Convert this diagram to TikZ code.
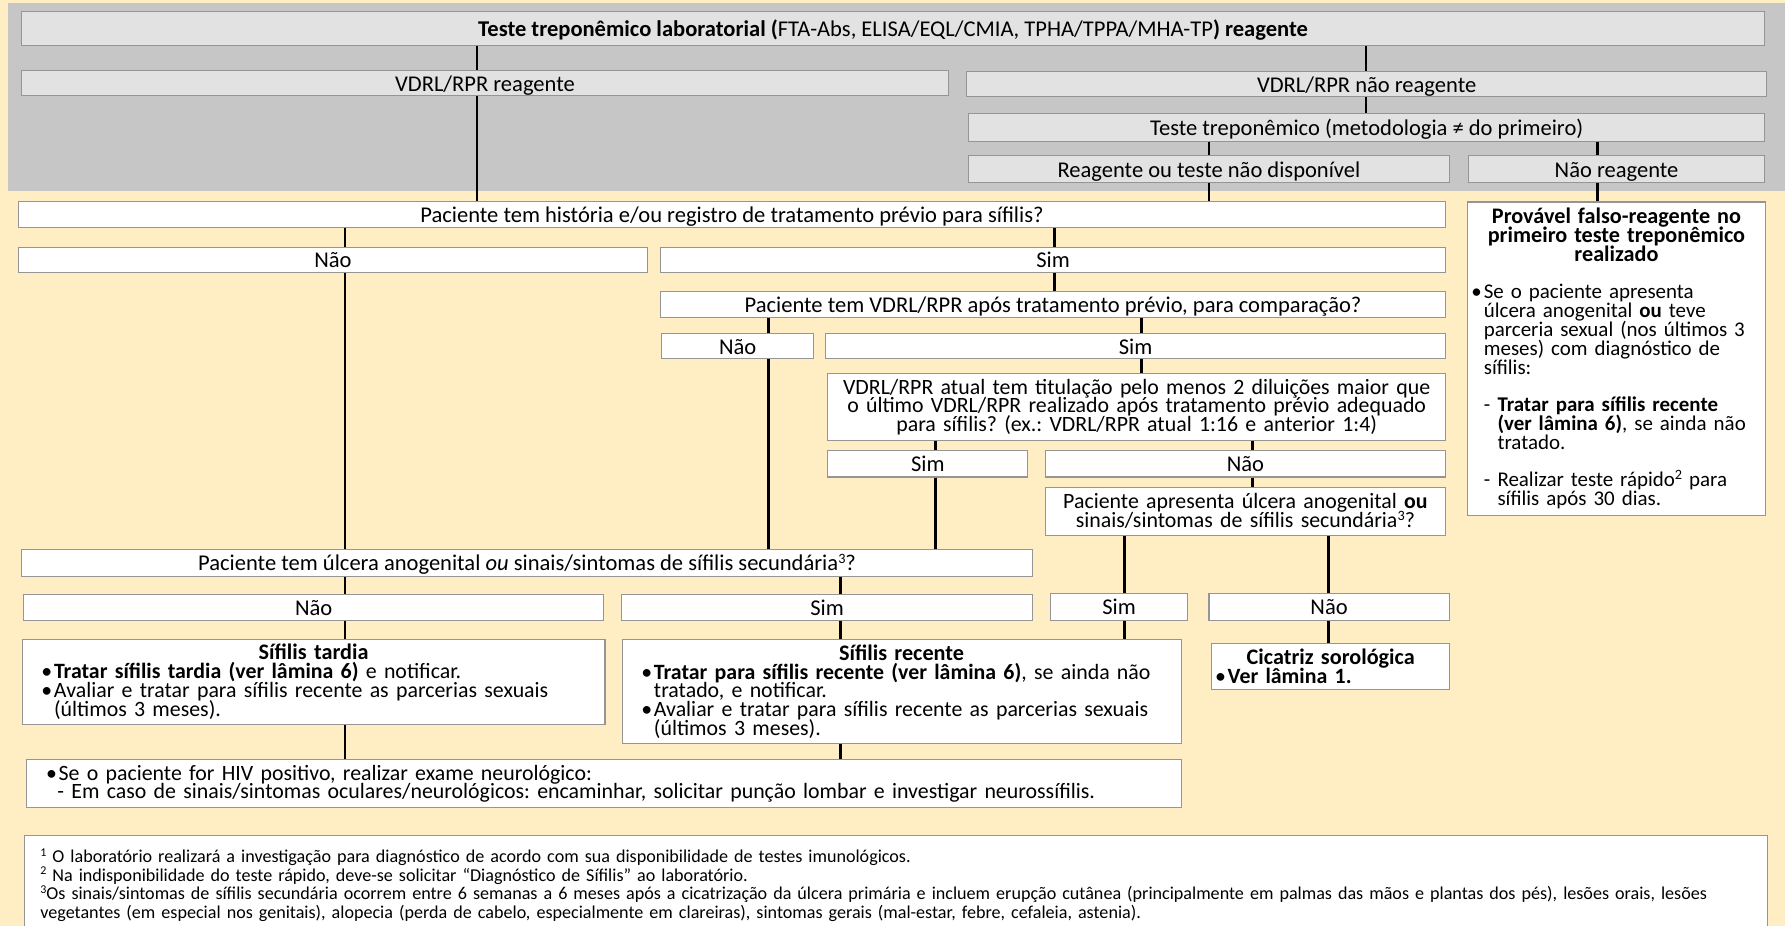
\documentclass[tikz,border=0pt]{standalone}
\usepackage{fontspec}
\setmainfont{Carlito}
\usetikzlibrary{calc}
\definecolor{bege}{HTML}{FFEDC4}
\definecolor{faixa}{HTML}{C6C6C6}
\definecolor{cinzabox}{HTML}{E2E2E2}
\definecolor{borda}{HTML}{959595}
\setlength{\parindent}{0pt}
\frenchspacing
\newcommand{\fsmain}{\fontsize{19.8}{16.5}\selectfont\lineskiplimit=-50pt\relax}
\newcommand{\fstexto}{\fontsize{19.2}{16.5}\selectfont\lineskiplimit=-50pt\relax}
\newcommand{\fstitulo}{\fontsize{19.5}{16.5}\selectfont\lineskiplimit=-50pt\relax}
\newcommand{\fsprov}{\fontsize{18.4}{16.5}\selectfont\lineskiplimit=-50pt\relax}
\newcommand{\fsnota}{\fontsize{15.9}{16.5}\selectfont\lineskiplimit=-50pt\relax}
\newcommand{\bul}{\makebox[11pt][l]{\textbullet}}
\newcommand{\tra}{\makebox[12pt][l]{-}}
\newcommand{\expo}[1]{\raisebox{6.5pt}{\fontsize{12.5}{12}\selectfont #1}}
\newcommand{\exnota}[1]{\raisebox{5.5pt}{\fontsize{10.5}{10}\selectfont #1}}

\tikzset{
  cxcinza/.style={draw=borda, fill=cinzabox, line width=0.9pt, inner sep=0pt, font=\fsmain, text height=16, text depth=2},
  cxbranca/.style={draw=borda, fill=white, line width=0.9pt, inner sep=0pt, font=\fsmain, text height=16, text depth=2},
  cxtexto/.style={draw=borda, fill=white, line width=0.9pt, inner sep=0pt, font=\fstexto},
  liga/.style={line width=2.4pt},
}

\begin{document}
\begin{tikzpicture}[x=1pt,y=-1pt]
  \useasboundingbox (0,0) rectangle (1568,813);
  \fill[bege] (0,0) rectangle (1568,813);
  \fill[faixa] (7,3) rectangle (1568,167.5);

  % colunas dos conectores
  \coordinate (colvr)   at (419,0);
  \coordinate (colvnr)  at (1200,0);
  \coordinate (colreag) at (1062,0);
  \coordinate (colnr)   at (1403,0);
  \coordinate (colnao)  at (303,0);
  \coordinate (colsim)  at (926,0);
  \coordinate (colnao2) at (675,0);
  \coordinate (colsim2) at (1003,0);
  \coordinate (colsim3) at (822,0);
  \coordinate (colnao3) at (1100,0);
  \coordinate (colsim4) at (988,0);
  \coordinate (colnao4) at (1167,0);
  \coordinate (colrec)  at (738,0);

  % faixa cinza
  \node[cxcinza, minimum width=1531, minimum height=30] (top) at (784.5,25)
    {\textbf{Teste treponêmico laboratorial (}FTA-Abs, ELISA/EQL/CMIA, TPHA/TPPA/MHA-TP\textbf{) reagente}};
  \node[cxcinza, minimum width=814, minimum height=22] (vr) at (426,73) {VDRL/RPR reagente};
  \node[cxcinza, minimum width=703, minimum height=22] (vnr) at (1200.5,74) {VDRL/RPR não reagente};
  \node[cxcinza, minimum width=699, minimum height=24] (tt) at (1200.5,112) {Teste treponêmico (metodologia ≠ do primeiro)};
  \node[cxcinza, minimum width=422, minimum height=23] (reag) at (1062,148.5) {Reagente ou teste não disponível};
  \node[cxcinza, minimum width=260, minimum height=23] (nreag) at (1420,148.5) {Não reagente};

  % fluxo principal
  \node[cxbranca, minimum width=1254, minimum height=23] (hist) at (643,188.5)
    {Paciente tem história e/ou registro de tratamento prévio para sífilis?};
  \node[cxbranca, minimum width=553, minimum height=22] (nao1) at (292.5,228) {Não};
  \node[cxbranca, minimum width=690, minimum height=22] (sim1) at (925,228) {Sim};
  \node[cxbranca, minimum width=690, minimum height=23] (comp) at (925,267.5)
    {Paciente tem VDRL/RPR após tratamento prévio, para comparação?};
  \node[cxbranca, minimum width=134, minimum height=22] (nao2) at (648,304) {Não};
  \node[cxbranca, minimum width=545, minimum height=22] (sim2) at (997.5,304) {Sim};
  \node[cxtexto, minimum height=59, text width=535, inner xsep=4, align=center] (tit) at (998.5,357.5)
    {VDRL/RPR atual tem titulação pelo menos 2 diluições maior que\\
     o último VDRL/RPR realizado após tratamento prévio adequado\\
     para sífilis? (ex.: VDRL/RPR atual 1:16 e anterior 1:4)};
  \node[cxbranca, minimum width=176, minimum height=23] (sim3) at (815,407.5) {Sim};
  \node[cxbranca, minimum width=352, minimum height=23] (nao3) at (1094,407.5) {Não};
  \node[cxtexto, minimum height=42, text width=344, inner xsep=4, align=center] (apres) at (1094,449)
    {Paciente apresenta úlcera anogenital \textbf{ou}\\
     sinais/sintomas de sífilis secundária\expo{3}?};
  \node[cxbranca, minimum width=120, minimum height=24] (sim4) at (983,533) {Sim};
  \node[cxbranca, minimum width=211, minimum height=24] (nao4) at (1167.5,533) {Não};
  \node[cxbranca, minimum width=888, minimum height=23] (ulc) at (463,494.5)
    {Paciente tem úlcera anogenital \emph{ou} sinais/sintomas de sífilis secundária\expo{3}?};
  \node[cxbranca, minimum width=509, minimum height=23] (nao5) at (275.5,533.5) {Não};
  \node[cxbranca, minimum width=361, minimum height=23] (sim5) at (726.5,533.5) {Sim};

  \node[cxtexto, anchor=north west, minimum height=75, text width=478, inner xsep=17, align=left] (tardia) at (19,561)
    {{\fstitulo\centering\textbf{Sífilis tardia}\par}
     \bul\textbf{Tratar sífilis tardia (ver lâmina 6)} e notificar.\\
     \bul Avaliar e tratar para sífilis recente as parcerias sexuais\\
     \hspace*{11pt}(últimos 3 meses).};
  \node[cxtexto, anchor=north west, minimum height=92, text width=457, inner xsep=17, align=left] (recente) at (546,561)
    {{\fstitulo\centering\textbf{Sífilis recente}\par}
     \bul\textbf{Tratar para sífilis recente (ver lâmina 6)}, se ainda não\\
     \hspace*{11pt}tratado, e notificar.\\
     \bul Avaliar e tratar para sífilis recente as parcerias sexuais\\
     \hspace*{11pt}(últimos 3 meses).};
  \node[cxtexto, anchor=north west, minimum height=40, text width=203, inner xsep=3, align=left] (cicat) at (1064,565)
    {{\fstitulo\centering\textbf{Cicatriz sorológica}\par}
     \bul\textbf{Ver lâmina 1.}};
  \node[cxtexto, anchor=north west, minimum height=42, text width=980, inner xsep=17, align=left] (hiv) at (23,667)
    {\bul Se o paciente for HIV positivo, realizar exame neurológico:\\
     \hspace*{10pt}- Em caso de sinais/sintomas oculares/neurológicos: encaminhar, solicitar punção lombar e investigar neurossífilis.};

  \node[cxtexto, font=\fsprov, anchor=north west, minimum height=275, text width=255, inner xsep=3, align=left] (prov) at (1289,177)
    {{\fstitulo\centering\textbf{Provável falso-reagente no\\ primeiro teste treponêmico\\ realizado}\par}
     \vspace{16.5pt}
     \bul Se o paciente apresenta\\
     \hspace*{11pt}úlcera anogenital \textbf{ou} teve\\
     \hspace*{11pt}parceria sexual (nos últimos 3\\
     \hspace*{11pt}meses) com diagnóstico de\\
     \hspace*{11pt}sífilis:\par
     \vspace{16.5pt}
     \hspace*{11pt}\tra\textbf{Tratar para sífilis recente}\\
     \hspace*{23pt}\textbf{(ver lâmina 6)}, se ainda não\\
     \hspace*{23pt}tratado.\par
     \vspace{16.5pt}
     \hspace*{11pt}\tra Realizar teste rápido\expo{2} para\\
     \hspace*{23pt}sífilis após 30 dias.};

  % notas de rodape
  \node[cxtexto, font=\fsnota, anchor=north west, minimum height=87, text width=1503, inner xsep=14, align=left] (notas) at (21,733.5)
    {\exnota{1} O laboratório realizará a investigação para diagnóstico de acordo com sua disponibilidade de testes imunológicos.\\
     \exnota{2} Na indisponibilidade do teste rápido, deve-se solicitar “Diagnóstico de Sífilis” ao laboratório.\\
     \exnota{3}Os sinais/sintomas de sífilis secundária ocorrem entre 6 semanas a 6 meses após a cicatrização da úlcera primária e incluem erupção cutânea (principalmente em palmas das mãos e plantas dos pés), lesões orais, lesões\\
     vegetantes (em especial nos genitais), alopecia (perda de cabelo, especialmente em clareiras), sintomas gerais (mal-estar, febre, cefaleia, astenia).};

  % conectores
  \draw[liga] (top.south -| colvr) -- (vr.north -| colvr);
  \draw[liga] (vr.south -| colvr) -- (hist.north -| colvr);
  \draw[liga] (top.south -| colvnr) -- (vnr.north -| colvnr);
  \draw[liga] (vnr.south -| colvnr) -- (tt.north -| colvnr);
  \draw[liga] (tt.south -| colreag) -- (reag.north -| colreag);
  \draw[liga] (reag.south -| colreag) -- (hist.north -| colreag);
  \draw[liga] (tt.south -| colnr) -- (nreag.north -| colnr);
  \draw[liga] (nreag.south -| colnr) -- (prov.north -| colnr);

  \draw[liga] (hist.south -| colnao) -- (nao1.north -| colnao);
  \draw[liga] (nao1.south -| colnao) -- (ulc.north -| colnao);
  \draw[liga] (hist.south -| colsim) -- (sim1.north -| colsim);
  \draw[liga] (sim1.south -| colsim) -- (comp.north -| colsim);
  \draw[liga] (comp.south -| colnao2) -- (nao2.north -| colnao2);
  \draw[liga] (nao2.south -| colnao2) -- (ulc.north -| colnao2);
  \draw[liga] (comp.south -| colsim2) -- (sim2.north -| colsim2);
  \draw[liga] (sim2.south -| colsim2) -- (tit.north -| colsim2);
  \draw[liga] (tit.south -| colsim3) -- (sim3.north -| colsim3);
  \draw[liga] (sim3.south -| colsim3) -- (ulc.north -| colsim3);
  \draw[liga] (tit.south -| colnao3) -- (nao3.north -| colnao3);
  \draw[liga] (nao3.south -| colnao3) -- (apres.north -| colnao3);
  \draw[liga] (apres.south -| colsim4) -- (sim4.north -| colsim4);
  \draw[liga] (sim4.south -| colsim4) -- (recente.north -| colsim4);
  \draw[liga] (apres.south -| colnao4) -- (nao4.north -| colnao4);
  \draw[liga] (nao4.south -| colnao4) -- (cicat.north -| colnao4);

  \draw[liga] (ulc.south -| colnao) -- (nao5.north -| colnao);
  \draw[liga] (nao5.south -| colnao) -- (tardia.north -| colnao);
  \draw[liga] (ulc.south -| colrec) -- (sim5.north -| colrec);
  \draw[liga] (sim5.south -| colrec) -- (recente.north -| colrec);
  \draw[liga] (tardia.south -| colnao) -- (hiv.north -| colnao);
  \draw[liga] (recente.south -| colrec) -- (hiv.north -| colrec);
\end{tikzpicture}
\end{document}
